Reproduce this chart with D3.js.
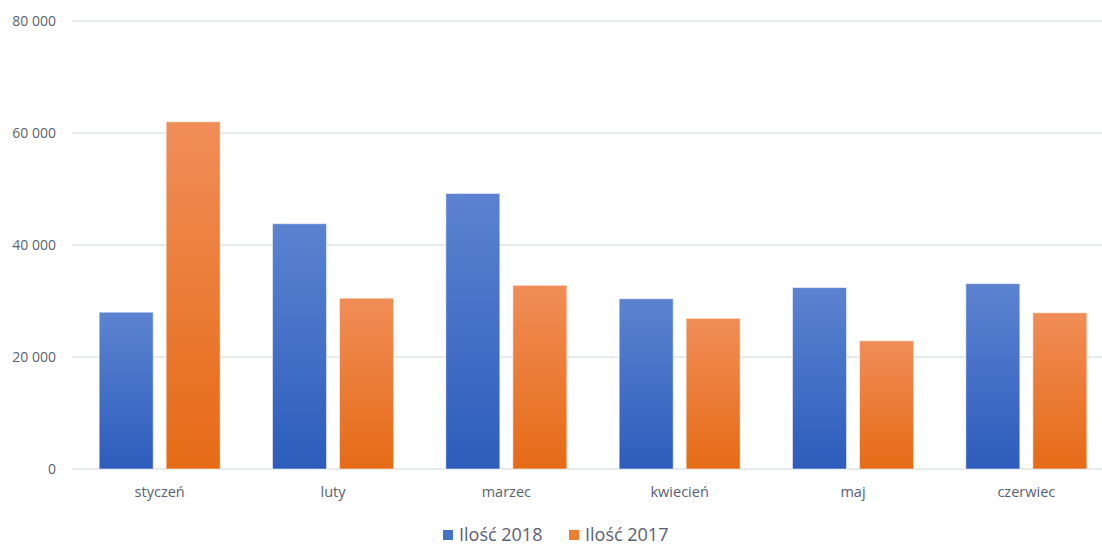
<!DOCTYPE html>
<html>
<head>
<meta charset="utf-8">
<script src="https://cdn.jsdelivr.net/npm/d3@7.9.0/dist/d3.min.js"></script>
<style>
  body { margin: 0; background: #fff; }
  svg { display: block; font-family: "Open Sans", "Noto Sans", sans-serif; }
</style>
</head>
<body>
<svg id="chart" width="1102" height="546"></svg>
<script>
const months = ['styczeń', 'luty', 'marzec', 'kwiecień', 'maj', 'czerwiec'];
const series = ['Ilość 2018', 'Ilość 2017'];
const values2018 = [28000, 43800, 49200, 30400, 32400, 33100];
const values2017 = [62000, 30500, 32800, 26900, 22900, 27900];
const yTicks = [0, 20000, 40000, 60000, 80000];

const svg = d3.select('#chart');
const margin = { top: 21, left: 72 };
const height = 448;
const plotW = 1040;          // band area, runs slightly past the right edge
const gridW = 1102 - margin.left;

const defs = svg.append('defs');
const gradients = [
  { id: 'grad-blue', top: '#5b83d0', bottom: '#2d5cbc' },
  { id: 'grad-orange', top: '#f08d57', bottom: '#e66b16' }
];
gradients.forEach((g) => {
  const lg = defs.append('linearGradient')
    .attr('id', g.id)
    .attr('x1', 0).attr('y1', 0).attr('x2', 0).attr('y2', 1);
  lg.append('stop').attr('offset', '0%').attr('stop-color', g.top);
  lg.append('stop').attr('offset', '100%').attr('stop-color', g.bottom);
});
const fills = ['url(#grad-blue)', 'url(#grad-orange)'];
const swatch = ['#4472c4', '#ed7d31'];

const g = svg.append('g').attr('transform', `translate(${margin.left},${margin.top})`);

const x0 = d3.scaleBand().domain(months).range([1, plotW + 1]);
const y = d3.scaleLinear().domain([0, 80000]).range([height, 0]);

const fmt = (v) => d3.format(',')(v).replace(/,/g, ' ');

// gridlines
g.selectAll('.grid')
  .data(yTicks)
  .join('line')
  .attr('x1', 0)
  .attr('x2', gridW)
  .attr('y1', (d) => y(d))
  .attr('y2', (d) => y(d))
  .attr('stroke', '#e1e4e9')
  .attr('stroke-width', 1.5);

// y labels
g.selectAll('.ylab')
  .data(yTicks)
  .join('text')
  .attr('x', -16)
  .attr('y', (d) => y(d))
  .attr('dy', '0.35em')
  .attr('text-anchor', 'end')
  .attr('font-size', 14)
  .attr('fill', '#596173')
  .text((d) => fmt(d));

// bars
const bandW = x0.bandwidth();
const barW = 54;
const gap = 13;
const x1 = d3.scaleOrdinal().domain([0, 1]).range([
  (bandW - 2 * barW - gap) / 2,
  (bandW - 2 * barW - gap) / 2 + barW + gap
]);

const data = months.map((m, i) => ({ month: m, vals: [values2018[i], values2017[i]] }));

const groups = g.selectAll('.grp')
  .data(data)
  .join('g')
  .attr('transform', (d) => `translate(${x0(d.month)},0)`);

groups.selectAll('rect')
  .data((d) => d.vals.map((v, s) => ({ v, s })))
  .join('rect')
  .attr('x', (d) => x1(d.s))
  .attr('width', barW)
  .attr('y', (d) => y(d.v))
  .attr('height', (d) => height - y(d.v))
  .attr('fill', (d) => fills[d.s])
  .attr('stroke', 'rgba(255,255,255,0.5)')
  .attr('stroke-width', 1);

// x labels
g.selectAll('.xlab')
  .data(months)
  .join('text')
  .attr('x', (d) => x0(d) + bandW / 2)
  .attr('y', height + 28)
  .attr('text-anchor', 'middle')
  .attr('font-size', 14.5)
  .attr('fill', '#596173')
  .text((d) => d);

// legend
const legend = svg.append('g').attr('transform', 'translate(443,541)');
const legendX = [0, 126];
series.forEach((s, i) => {
  const item = legend.append('g').attr('transform', `translate(${legendX[i]},0)`);
  item.append('rect')
    .attr('x', 0).attr('y', -11)
    .attr('width', 10).attr('height', 10)
    .attr('fill', swatch[i]);
  item.append('text')
    .attr('x', 16).attr('y', 0)
    .attr('font-size', 18)
    .attr('fill', '#596173')
    .text(s);
});
</script>
</body>
</html>
